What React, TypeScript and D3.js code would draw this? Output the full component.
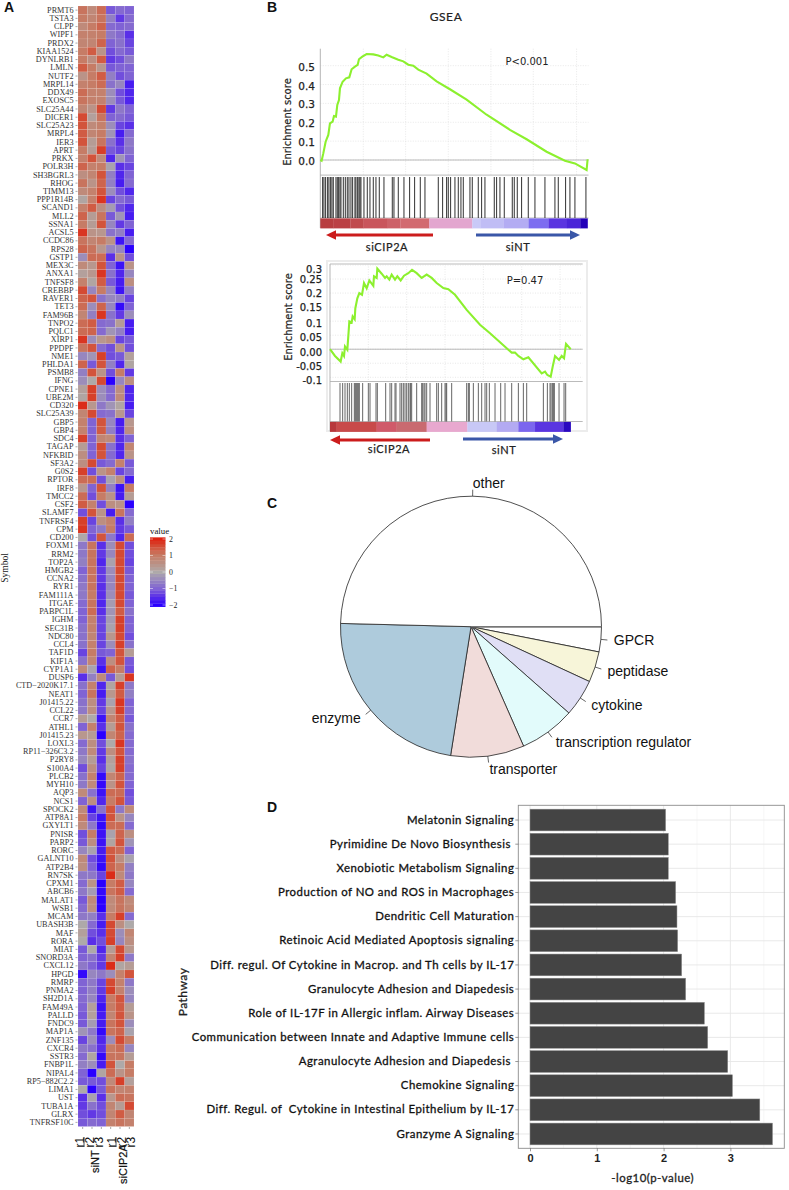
import { useEffect, useRef } from "react";
import * as d3 from "d3";

// Panel A: heatmap
const genes = [
    "PRMT6", "TSTA3", "CLPP", "WIPF1", "PRDX2", "KIAA1524", "DYNLRB1", "LMLN", "NUTF2", "MRPL14", "DDX49", "EXOSC5",
    "SLC25A44", "DICER1", "SLC25A23", "MRPL4", "IER3", "APRT", "PRKX", "POLR3H", "SH3BGRL3", "RHOG", "TIMM13", "PPP1R14B",
    "SCAND1", "MLL2", "SSNA1", "ACSL5", "CCDC86", "RPS28", "GSTP1", "MEX3C", "ANXA1", "TNFSF8", "CREBBP", "RAVER1",
    "TET3", "FAM96B", "TNPO2", "PQLC1", "XIRP1", "PPDPF", "NME1", "PHLDA1", "PSMB8", "IFNG", "CPNE1", "UBE2M",
    "CD320", "SLC25A39", "GBP5", "GBP4", "SDC4", "TAGAP", "NFKBID", "SF3A2", "G0S2", "RPTOR", "IRF8", "TMCC2",
    "CSF2", "SLAMF7", "TNFRSF4", "CPM", "CD200", "FOXM1", "RRM2", "TOP2A", "HMGB2", "CCNA2", "RYR1", "FAM111A",
    "ITGAE", "PABPC1L", "IGHM", "SEC31B", "NDC80", "CCL4", "TAF1D", "KIF1A", "CYP1A1", "DUSP6", "CTD−2020K17.1", "NEAT1",
    "J01415.22", "CCL22", "CCR7", "ATHL1", "J01415.23", "LOXL3", "RP11−326C3.2", "P2RY8", "S100A4", "PLCB2", "MYH10", "AQP3",
    "NCS1", "SPOCK2", "ATP8A1", "GXYLT1", "PNISR", "PARP2", "RORC", "GALNT10", "ATP2B4", "RN7SK", "CPXM1", "ABCB6",
    "MALAT1", "WSB1", "MCAM", "UBASH3B", "MAF", "RORA", "MIAT", "SNORD3A", "CXCL12", "HPGD", "RMRP", "PNMA2",
    "SH2D1A", "FAM49A", "PALLD", "FNDC9", "MAP1A", "ZNF135", "CXCR4", "SSTR3", "FNBP1L", "NIPAL4", "RP5−882C2.2", "LIMA1",
    "UST", "TUBA1A", "GLRX", "TNFRSF10C",
];
const samples = ["siNT r1", "siNT r2", "siNT r3", "siCIP2A r1", "siCIP2A r2", "siCIP2A r3"];
const heatValues = [
    [1.1, 0.7, 1.2, -1.1, -0.9, -1], [1, 0.8, 1.1, -0.6, -1.4, -0.9], [0.7, 1, 1.3, -0.9, -1, -0.9], [0.9, 0.9, 1, -0.7, -0.9, -1.5],
    [0.8, 0.8, 1.3, -1, -0.8, -1.3], [1, 1.4, 0.5, -1.2, -0.9, -1.1], [1, 0.6, 1.4, -1.4, -1.2, -0.7], [1.4, 1, 0.4, -1.1, -1, -1],
    [0.5, 1, 1.4, -0.6, -1.2, -1], [0.9, 1, 1.2, -0.8, -0.5, -1.7], [1.2, 0.9, 0.9, -0.4, -1.2, -1.6], [1.1, 0.9, 0.9, -0.4, -1.1, -1.6],
    [0.8, 0.5, 1.6, -1.4, -0.7, -1], [1.6, 0.2, 1.1, -1, -0.9, -1.1], [1.5, 0.7, 0.9, -0.4, -1.3, -1.5], [1.4, 0.8, 1, -0.3, -1.7, -0.9],
    [1.5, 0.3, 1.1, -0.8, -1.5, -0.7], [1, 0.3, 1.7, -1.1, -1.3, -0.8], [0.9, 1.5, 0.7, -1.6, -0.3, -1], [1.3, 0.9, 1, -0.1, -1.5, -1.3],
    [0.6, 0.8, 1.5, -0.6, -1.6, -1], [1.1, 0.5, 1.3, -0.6, -1.7, -0.9], [0.7, 0.9, 1.5, -0.4, -1.2, -1.6], [0.1, 0.9, 1.8, -1.3, -0.9, -1.1],
    [0.9, 1.4, 0.6, -0.2, -1.2, -1.6], [1.3, 0.3, 1.1, -1.1, -0.3, -1.7], [1, 0.3, 1.5, -0.5, -1.4, -1], [1.8, 0.5, 0.4, -0.8, -0.6, -1.7],
    [1.1, 0.8, 1, 0.5, -1.8, -0.9], [1.3, 1.1, 0.4, -0.5, -0.5, -2], [-0.4, 1.2, 1.2, -1.5, 0.5, -1.2], [0.7, 0.4, 1.5, -1, -1.8, 0.5],
    [0.2, 0.4, 1.8, -0.8, -1.6, -0.5], [0.9, 0.1, 1.4, -1.1, -1.7, 0.6], [1.6, -0.5, 1, -0.5, -1.8, -0.6], [1.3, 1.5, -0.8, -0.5, -0.6, -1.3],
    [1.2, -0.4, 1.3, -0.5, -1.9, -1], [0.8, -0.6, 1.8, -0.8, -1.4, -0.4], [1.2, 1.4, -0.9, -0.8, 0.3, -1.7], [1.2, 1.3, -0.9, -0.3, -0.6, -1.7],
    [1.8, -0.4, 0.4, 0.6, -1.3, -1.1], [1.1, 1.5, -0.9, -1.2, 0.5, -1.2], [-0.5, -0.3, 1.7, -1.2, -1.1, 0.2], [1.3, -1.1, 1.5, -0.6, -1.6, 0.1],
    [-0.6, 1.5, 0.5, -1.2, 1, -1.4], [-0.4, 0, 1.6, -2, -0.5, 0.6], [0.2, 1.7, -0.4, -0.9, 0.6, -1.6], [0.1, 1.7, -0.4, -0.9, 0.7, -1.6],
    [1.9, 0.4, -0.7, -0.3, 0.1, -1.7], [0.8, 1.6, -0.9, -0.8, 0.4, -1.3], [0.9, -1, 1.5, -0.5, -1.7, 0.4], [0.9, -1, 1.4, -0.6, -1.6, 0.6],
    [1.7, -1, 0.8, 0.7, -1.5, -1], [0.3, -1, 1.6, -0.8, -1.6, 0.8], [0.6, -1, 1.5, -0.9, -1.6, 0.5], [0.6, 1.6, -1.1, -0.9, 0.9, -1.1],
    [1.7, -1.2, 0.5, 0.9, -1.3, -0.9], [1.2, 1.2, -1.2, -0.1, 0.6, -1.7], [0.4, -1, 1.5, -0.6, -1.8, 1], [1.2, -1.2, 1, 0.5, -1.7, 0.3],
    [1.4, 0.9, -1.2, 0.6, 0.5, -2], [-1.2, 1.5, 0.5, -1.7, 1.1, -0.9], [1.7, -1.3, 0.6, 0.9, -1.5, -0.6], [1.8, -1, -0.7, 1, -1.4, -1.1],
    [0, -1.2, 1.5, -0.7, -1.6, 1.2], [-0.7, 1.1, -1.5, -0.4, 1.6, -1.2], [-0.7, 1.1, -1.4, -0.5, 1.6, -1.2], [-0.6, 1.1, -1.6, -0.1, 1.6, -1.3],
    [-1, 1.1, -1.4, -0.4, 1.6, -1.1], [-0.8, 1.1, -1.4, -0.5, 1.6, -1], [-0.7, 1.1, -1.5, -0.5, 1.6, -1], [-0.7, 1, -1.5, -0.4, 1.6, -1.1],
    [-0.9, 1.1, -1.6, -0.2, 1.6, -1], [-1, 1.2, -1.5, -0.3, 1.4, -0.8], [-1, 0.9, -1.3, -0.2, 1.7, -1], [-0.8, 0.9, -1.3, -0.1, 1.7, -1],
    [-0.8, 0.8, -1.3, 0.4, 1.6, -1.2], [-0.8, 0.9, -1.3, -0.4, 1.7, -0.8], [-1.3, 1, -1.1, -1, 1.5, 0.3], [-0.8, 0.8, -1.5, 0.6, 1.5, -1.1],
    [0.7, -0.1, -1.8, 1.3, 1, -1.2], [-1.5, -0.6, 0.7, -1.1, 0.3, 1.8], [-0.8, 0.9, -1.6, 0.1, 1.7, -0.7], [-1, 1.1, -1.7, 0.4, 1.4, -0.6],
    [-0.8, 0.6, -1.4, -0.1, 1.8, -1], [-0.7, 0.6, -1.3, 0.4, 1.7, -0.9], [0.3, 0, -1.8, 0.8, 1.4, -1.1], [-1, 0.9, -1.5, 0.3, 1.5, -0.8],
    [0.4, 0.3, -2, 0.8, 1.3, -0.9], [-0.9, 0.6, -1.2, 0, 1.8, -0.9], [-0.7, 0.7, -1.4, 0.6, 1.5, -0.9], [-0.5, 0.3, -1.5, 0.2, 1.7, -0.8],
    [-1.2, 0.6, -1.3, 0.1, 1.7, -0.9], [-0.8, 0.9, -1.9, 0.8, 1.3, -0.9], [-0.7, 0.7, -1.9, 0.5, 1.5, -1], [0.7, -0.8, -1.8, 1.2, 1.2, -1.2],
    [-1, 0.6, -1.6, 1, 1.5, -1.1], [0.7, -1.8, -0.8, 1.5, -0.7, 0.7], [1, -1.3, -1.8, 1.5, 0.5, -0.5], [0.7, -0.7, -1.9, 1.2, 1.2, -0.9],
    [-1.2, 1, -1.8, -0.1, 1.3, 0.6], [-1.1, 0.6, -1.8, 0.1, 1.5, -0.3], [-0.5, -0.1, -1.7, 1.4, 1.2, -1], [0.7, -1.2, -1.8, 1.5, 0.6, -0.1],
    [0.6, -1, -1.9, 1.3, 1, -0.6], [-0.7, -0.7, -1.3, 1.9, 0.7, -0.7], [-0.9, 0.5, -2, 1, 1.4, -0.5], [-0.7, -0.2, -1.9, 1.1, 1.4, -0.9],
    [-1.1, 0.7, -2, 0.7, 1.1, 0.7], [-0.9, 0.6, -2, 0.7, 1.1, 0.8], [-0.7, -0.6, -1.5, 1, 1.7, -0.9], [0, -0.9, -1.7, 1.6, 0.6, 0],
    [0.2, -1.2, -1.5, 1.6, -0.4, 0.8], [0, -1.5, -1.2, 1.7, -0.5, 0.6], [-1.1, 0, -1.6, 0.3, 1.6, 0.4], [-1, -0.8, -1.4, 0.8, 1.7, -0.7],
    [-0.7, -1, -1.4, 1.9, 0.1, 0.3], [-1.9, -0.5, -0.7, -0.4, 0.9, 1.5], [-1, -0.7, -1.3, 1.6, 0.9, -0.7], [-1, -0.6, -1.4, 1.7, 0.9, -0.4],
    [-0.9, -0.5, -1.6, 1, 1.5, -0.5], [-1, 0.2, -1.8, 1, 1.4, 0.3], [-1.1, 0.2, -1.7, 0.8, 1.5, 0.5], [-1.1, -0.2, -1.7, 1.1, 1.5, -0.4],
    [-0.3, -0.7, -1.9, 1.1, 1.3, -0.1], [-1.3, -0.4, -1.6, -0.4, 1.6, 1], [-0.7, -0.8, -1.5, 1, 1.2, -0.5], [-0.9, 0.1, -1.9, 1.1, 1.1, 0.3],
    [-0.6, -0.4, -1.7, 1.5, 0, 1], [-1, -2, 0.1, 1.2, 0.5, 1], [-1.1, -1.1, -1.2, 0.7, 1.7, 0.2], [0, -2, -1.1, 1.1, 0.8, 0.9],
    [-1.5, -0.1, -1.5, 0.4, 1.2, 1.1], [-1.4, -0.8, -1.2, 0.8, 0.3, 1.6], [-1.2, -1.4, -1.2, 0.8, 1.4, 0.8], [-1.1, -0.9, -1, 0.9, 1.1, 0.9],
];
const legendTicks = [2, 1, 0, -1, -2];

// Panel B: GSEA running scores, as [rank, enrichment score]
const esCurveTop = [
    [0, 0], [4, -0.004], [9, 0.035], [16, 0.097], [24, 0.133], [29, 0.194], [37, 0.203], [41, 0.233], [47, 0.23], [51, 0.292], [56, 0.318],
    [59, 0.38], [67, 0.415], [77, 0.433], [87, 0.438], [94, 0.481], [104, 0.495], [112, 0.504], [116, 0.534], [126, 0.548], [139, 0.562],
    [159, 0.56], [174, 0.554], [189, 0.544], [199, 0.558], [214, 0.546], [234, 0.532], [249, 0.523], [264, 0.505], [279, 0.5], [294, 0.479],
    [319, 0.458], [349, 0.417], [389, 0.375], [439, 0.32], [499, 0.24], [569, 0.16], [619, 0.11], [679, 0.044], [734, -0.004], [764, -0.018],
    [799, -0.053], [802, 0.004],
];
const hitsTop = [
    7, 11, 16, 22, 26, 31, 35, 39, 47, 51, 55, 59, 62, 69, 75, 81, 86, 92, 97, 104, 107, 112, 116, 119, 122, 131, 141, 149, 159, 167, 177, 191,
    216, 221, 234, 251, 268, 283, 300, 314, 354, 367, 379, 384, 391, 404, 414, 422, 429, 449, 456, 474, 484, 494, 522, 529, 539, 552, 576, 582,
    591, 604, 624, 644, 674, 704, 714, 736, 749, 764, 797,
];
const bandTop: [number, string][] = [
    [0, "#b83d3f"], [40, "#bb4044"], [90, "#c04a4e"], [130, "#c9555c"], [200, "#cd6168"], [240, "#d26a70"], [327, "#e3a6cf"],
    [456, "#c9c9f7"], [480, "#c0bdf5"], [550, "#b3acf3"], [625, "#7d6df0"], [685, "#5a35e0"], [740, "#4a25d8"], [780, "#2200b8"],
];
const esTicksTop = [0, 0.1, 0.2, 0.3, 0.4, 0.5];
const gridRanksTop = [129, 256, 384, 512, 639, 769];

const esCurveBottom = [
    [0, 0], [15, -0.024], [32, -0.044], [37, -0.014], [42, -0.024], [45, 0.01], [52, -0.002], [55, 0.048], [58, 0.099], [65, 0.095], [68, 0.117],
    [74, 0.107], [76, 0.146], [82, 0.181], [88, 0.2], [96, 0.194], [102, 0.236], [110, 0.217], [118, 0.245], [130, 0.226], [132, 0.26], [140, 0.254],
    [142, 0.287], [155, 0.269], [165, 0.254], [170, 0.26], [178, 0.248], [185, 0.266], [195, 0.248], [202, 0.26], [212, 0.245], [222, 0.262],
    [235, 0.271], [246, 0.283], [260, 0.271], [275, 0.254], [290, 0.266], [305, 0.254], [320, 0.236], [340, 0.218], [355, 0.214], [375, 0.194],
    [410, 0.14], [450, 0.087], [480, 0.057], [535, -0.002], [545, -0.012], [555, -0.012], [565, -0.024], [580, -0.036], [595, -0.029], [635, -0.086],
    [645, -0.08], [652, -0.092], [662, -0.098], [668, -0.062], [675, -0.024], [687, -0.038], [695, -0.024], [702, -0.032], [708, 0.019], [722, 0],
];
const hitsBottom = [
    30, 38, 45, 52, 58, 65, 73, 76, 79, 82, 85, 88, 98, 115, 120, 138, 142, 167, 180, 185, 195, 198, 210, 215, 220, 225, 230, 235, 240, 242, 245,
    260, 275, 278, 282, 285, 290, 300, 320, 325, 335, 345, 348, 350, 365, 410, 415, 418, 430, 445, 455, 465, 470, 478, 495, 512, 525, 545, 565, 580,
    590, 640, 652, 660, 663, 667, 670, 673, 687, 702, 707,
];
const bandBottom: [number, string][] = [
    [0, "#b8383c"], [20, "#c84a4a"], [140, "#d05a6a"], [200, "#c96a70"], [290, "#e8a8cf"], [412, "#c8c8f6"], [500, "#b3aaf2"],
    [565, "#7b66ee"], [615, "#5a35e0"], [700, "#2a08c0"],
];
const esTicksBottom = [0.3, 0.25, 0.2, 0.15, 0.1, 0.05, 0, -0.05, -0.1];
const esLabelsBottom = ["0.3", "0.25", "0.2", "0.15", "0.1", "0.05", "0.00", "-0.05", "-0.1"];
const esLabelNudge = [4.5, 0, 0, 0, 2.5, 2, 2.5, 3.3, 3.3];
const gridRanksBottom = [115, 230, 345, 460, 575, 690];

// Panel C: pie
const pieLabels = ["GPCR", "peptidase", "cytokine", "transcription regulator", "transporter", "enzyme", "other"];
const pieShares = [3.1, 3.8, 4.6, 6.9, 9.1, 22.9, 49.6];
const pieColors = ["#ffffff", "#f7f5d9", "#e0dff5", "#e2fbfb", "#f1dcda", "#aecbdc", "#ffffff"];

// Panel D: pathways
const pathways = [
    "Melatonin Signaling", "Pyrimidine De Novo Biosynthesis ", "Xenobiotic Metabolism Signaling", "Production of NO and ROS in Macrophages",
    "Dendritic Cell Maturation", "Retinoic Acid Mediated Apoptosis signaling", "Diff. regul. Of Cytokine in Macrop. and Th cells by IL-17",
    "Granulocyte Adhesion and Diapedesis", "Role of IL-17F in Allergic inflam. Airway Diseases", "Communication between Innate and Adaptive Immune cells",
    "Agranulocyte Adhesion and Diapedesis ", "Chemokine Signaling", "Diff. Regul. of  Cytokine in Intestinal Epithelium by IL-17", "Granzyme A Signaling",
];
const pathwayScores = [2.03, 2.07, 2.07, 2.18, 2.2, 2.21, 2.27, 2.33, 2.61, 2.66, 2.96, 3.03, 3.44, 3.63];

const SERIF = "'Liberation Serif', serif";
const AVENIR = "Lato, sans-serif";
const VERDANA = "'DejaVu Sans', sans-serif";
const HELV = "'Liberation Sans', sans-serif";

function panelLetter(svg: any, letter: string, x: number, y: number) {
    svg.append("text").attr("x", x).attr("y", y).attr("font-family", HELV).attr("font-weight", "bold")
        .attr("font-size", 14).attr("fill", "#111").text(letter);
}

function drawHeatmap(svg: any) {
    const y = d3.scaleBand().domain(genes).range([6, 1126.5]);
    const x = d3.scaleBand().domain(samples).range([78, 134]);
    const color = d3.scaleLinear<string>()
        .domain([-2, -1.5, -1, 0, 1, 1.5, 2])
        .range(["#2a00ff", "#5a2fe8", "#8063d4", "#aea9a9", "#c67c66", "#d2543c", "#dd2210"]);

    const g = svg.append("g");
    genes.forEach((gene, i) => {
        g.selectAll(null)
            .data(heatValues[i])
            .enter()
            .append("rect")
            .attr("x", (_: number, j: number) => x(samples[j]))
            .attr("y", y(gene))
            .attr("width", x.bandwidth())
            .attr("height", y.bandwidth())
            .attr("fill", (d: number) => color(d))
            .attr("stroke", "#fff")
            .attr("stroke-opacity", 0.2)
            .attr("stroke-width", 0.4);
    });

    const left = svg.append("g").attr("transform", "translate(77.5,0)").call(d3.axisLeft(y).tickSize(2).tickPadding(2));
    left.select(".domain").remove();
    left.selectAll("text").attr("font-family", SERIF).attr("font-size", 8.2).attr("fill", "#333");
    left.selectAll("line").attr("stroke", "#555").attr("stroke-width", 0.5);

    const bottom = svg.append("g").attr("transform", "translate(0,1127)").call(d3.axisBottom(x).tickSize(2).tickFormat(() => ""));
    bottom.select(".domain").remove();
    bottom.selectAll("line").attr("stroke", "#555").attr("stroke-width", 0.5);

    const reps = ["r1", "r2", "r3", "r1", "r2", "r3"];
    const repX = [80, 89.7, 99, 111.5, 121.5, 131];
    reps.forEach((r, i) => {
        svg.append("text").attr("transform", `translate(${repX[i] + 4.2},1147.5) rotate(-90)`)
            .attr("font-family", HELV).attr("font-size", 12).attr("fill", "#111").text(r);
    });
    [84, 116].forEach((bx) => {
        svg.append("line").attr("x1", bx).attr("x2", bx).attr("y1", 1137).attr("y2", 1147).attr("stroke", "#222").attr("stroke-width", 0.8);
    });
    svg.append("text").attr("transform", "translate(99,1173) rotate(-90)").attr("font-family", HELV).attr("font-size", 11)
        .attr("fill", "#111").attr("stroke", "#111").attr("stroke-width", 0.2).text("siNT");
    svg.append("text").attr("transform", "translate(127,1184) rotate(-90)").attr("font-family", HELV).attr("font-size", 11)
        .attr("fill", "#111").attr("stroke", "#111").attr("stroke-width", 0.2).text("siCIP2A");

    svg.append("text").attr("transform", "translate(8,568) rotate(-90)").attr("text-anchor", "middle")
        .attr("font-family", SERIF).attr("font-size", 9.5).attr("fill", "#222").text("Symbol");

    // colour legend
    const ly = d3.scaleLinear().domain([-2, 2]).range([605, 539]);
    const bins = d3.range(0, 21).map((i) => -2.1 + (i * 4.2) / 21);
    svg.append("g").selectAll("rect").data(bins).enter().append("rect")
        .attr("x", 150).attr("width", 15.5)
        .attr("y", (d: number) => ly(d + 0.2))
        .attr("height", ly(0) - ly(0.2) + 0.3)
        .attr("fill", (d: number) => color(Math.max(-2, Math.min(2, d + 0.1))));
    legendTicks.forEach((t) => {
        [[150, 153], [162.5, 165.5]].forEach(([a, b]) => {
            svg.append("line").attr("x1", a).attr("x2", b).attr("y1", ly(t)).attr("y2", ly(t)).attr("stroke", "#fff").attr("stroke-width", 0.5);
        });
        svg.append("text").attr("x", 169).attr("y", ly(t) + 2.6).attr("font-family", SERIF).attr("font-size", 7.8).attr("fill", "#222")
            .text(t < 0 ? "−" + Math.abs(t) : String(t));
    });
    svg.append("text").attr("x", 150).attr("y", 534).attr("font-family", SERIF).attr("font-size", 8.8).attr("fill", "#111").text("value");
}

function arrow(svg: any, x1: number, x2: number, y: number, color: string) {
    const dir = x2 > x1 ? 1 : -1;
    svg.append("line").attr("x1", x1).attr("x2", x2 - dir * 9).attr("y1", y).attr("y2", y).attr("stroke", color).attr("stroke-width", 3);
    svg.append("path").attr("d", d3.line()([[x2, y], [x2 - dir * 10, y - 4.8], [x2 - dir * 10, y + 4.8]]) + "Z").attr("fill", color);
}

function drawGsea(svg: any, o: any) {
    const x = d3.scaleLinear().domain(o.rankDomain).range(o.xRange);
    const y = d3.scaleLinear().domain(o.esDomain).range(o.yRange);

    // dotted grid
    o.gridRanks.forEach((r: number) => {
        svg.append("line").attr("x1", x(r)).attr("x2", x(r)).attr("y1", o.yRange[1]).attr("y2", o.yRange[0])
            .attr("stroke", "#d8d8d8").attr("stroke-width", 0.6).attr("stroke-dasharray", "1,1.5");
    });
    o.esTicks.forEach((t: number) => {
        svg.append("line").attr("x1", o.xRange[0]).attr("x2", o.frameRight).attr("y1", y(t)).attr("y2", y(t))
            .attr("stroke", "#d8d8d8").attr("stroke-width", 0.6).attr("stroke-dasharray", "1,1.5");
    });
    // frame lines
    svg.append("line").attr("x1", o.xRange[0]).attr("x2", o.xRange[0]).attr("y1", o.yRange[1]).attr("y2", o.bandBottom).attr("stroke", "#b5b5b5").attr("stroke-width", 1);
    [y(0), o.yRange[0], o.bandTop].forEach((ly: number) => {
        svg.append("line").attr("x1", o.xRange[0]).attr("x2", o.frameRight).attr("y1", ly).attr("y2", ly).attr("stroke", "#aaa").attr("stroke-width", 0.8);
    });

    // tick labels
    o.esTicks.forEach((t: number, i: number) => {
        svg.append("text").attr("x", o.labelX).attr("y", y(t) + 3.8 + o.nudge[i]).attr("text-anchor", "end")
            .attr("font-family", VERDANA).attr("font-size", o.tickSize).attr("fill", "#222").attr("stroke", "#222").attr("stroke-width", 0.25)
            .text(o.tickLabels[i]);
    });
    svg.append("text").attr("transform", `translate(${o.titleX},${o.titleY}) rotate(-90)`).attr("text-anchor", "middle")
        .attr("font-family", VERDANA).attr("font-size", 10).attr("fill", "#222").attr("stroke", "#222").attr("stroke-width", 0.2).text("Enrichment score");

    // hits
    svg.append("g").selectAll("line").data(o.hits).enter().append("line")
        .attr("x1", (d: number) => x(d)).attr("x2", (d: number) => x(d))
        .attr("y1", o.hitTop).attr("y2", o.bandTop)
        .attr("stroke", o.hitColor).attr("stroke-width", 0.9);

    // colour band
    svg.append("g").selectAll("rect").data(o.band).enter().append("rect")
        .attr("x", (d: [number, string]) => x(d[0]))
        .attr("y", o.bandTop + 0.4)
        .attr("width", (d: [number, string], i: number) => x(i + 1 < o.band.length ? o.band[i + 1][0] : o.rankDomain[1]) - x(d[0]) + 0.2)
        .attr("height", o.bandBottom - o.bandTop)
        .attr("fill", (d: [number, string]) => d[1]);

    // running score
    const line = d3.line<number[]>().x((d) => x(d[0])).y((d) => y(d[1]));
    svg.append("path").attr("d", line(o.curve)).attr("fill", "none").attr("stroke", "#8cf02e").attr("stroke-width", 2.1);
}

function drawGseaPanels(svg: any) {
    svg.append("text").attr("x", 446).attr("y", 21).attr("text-anchor", "middle").attr("font-family", AVENIR)
        .attr("font-size", 12).attr("fill", "#222").attr("stroke", "#222").attr("stroke-width", 0.2).attr("letter-spacing", 0.6).text("GSEA");

    drawGsea(svg, {
        rankDomain: [0, 802], xRange: [320.3, 587.6], esDomain: [-0.08, 0.59], yRange: [175.1, 48.7], frameRight: 588.5,
        gridRanks: gridRanksTop, esTicks: esTicksTop, tickLabels: esTicksTop.map((t) => t.toFixed(1)), nudge: esTicksTop.map(() => 1.2),
        labelX: 315, tickSize: 10.5, titleX: 291, titleY: 122, hits: hitsTop, hitColor: "#1a1a1a", hitTop: 177, bandTop: 218, bandBottom: 228, band: bandTop, curve: esCurveTop,
    });
    svg.append("text").attr("x", 527).attr("y", 65).attr("text-anchor", "middle").attr("font-family", VERDANA).attr("font-size", 10)
        .attr("fill", "#222").text("P<0.001");
    arrow(svg, 433, 326, 235, "#cc1c1c");
    arrow(svg, 476, 580, 235, "#3a57a8");
    [["siCIP2A", 387, 251], ["siNT", 518, 251], ["siCIP2A", 389, 453], ["siNT", 504, 454]].forEach(([t, tx, ty]) => {
        svg.append("text").attr("x", tx).attr("y", ty).attr("text-anchor", "middle").attr("font-family", AVENIR).attr("font-size", 11)
            .attr("stroke", "#222").attr("stroke-width", 0.25).attr("letter-spacing", 0.6).attr("fill", "#222").text(t as string);
    });

    svg.append("rect").attr("x", 327).attr("y", 261).attr("width", 260).attr("height", 170).attr("fill", "none").attr("stroke", "#ececec").attr("stroke-width", 2);
    svg.append("line").attr("x1", 330).attr("x2", 582.7).attr("y1", 264).attr("y2", 264).attr("stroke", "#bbb").attr("stroke-width", 1);
    drawGsea(svg, {
        rankDomain: [0, 722], xRange: [330, 570.7], esDomain: [-0.115, 0.3036], yRange: [381.5, 264], frameRight: 582.7,
        gridRanks: gridRanksBottom, esTicks: esTicksBottom, tickLabels: esLabelsBottom, nudge: esLabelNudge,
        labelX: 322, tickSize: 10, titleX: 291.5, titleY: 317, hits: hitsBottom, hitColor: "#555555", hitTop: 383, bandTop: 421.5, bandBottom: 431.5, band: bandBottom, curve: esCurveBottom,
    });
    svg.append("text").attr("x", 525).attr("y", 284).attr("text-anchor", "middle").attr("font-family", VERDANA).attr("font-size", 10)
        .attr("fill", "#222").text("P=0.47");
    arrow(svg, 430, 330, 440, "#cc1c1c");
    arrow(svg, 463, 563, 439, "#3a57a8");
}

function drawPie(svg: any) {
    const cx = 471, cy = 626.7, r = 130.5;
    const pie = d3.pie<number>().sort(null).startAngle(Math.PI / 2).endAngle(Math.PI / 2 + 2 * Math.PI);
    const arcs = pie(pieShares);
    const arc = d3.arc<any>().innerRadius(0).outerRadius(r);
    const g = svg.append("g").attr("transform", `translate(${cx},${cy})`);
    g.selectAll("path").data(arcs).enter().append("path")
        .attr("d", arc)
        .attr("fill", (_: any, i: number) => pieColors[i])
        .attr("stroke", "#222")
        .attr("stroke-width", 0.8);
    // the first radius is drawn heavier and greyer in the original
    g.append("line").attr("x1", 0).attr("y1", 0).attr("x2", r).attr("y2", 0).attr("stroke", "#777").attr("stroke-width", 1.4);

    arcs.forEach((a: any, i: number) => {
        const mid = (a.startAngle + a.endAngle) / 2;
        const sx = Math.sin(mid), sy = -Math.cos(mid);
        g.append("line").attr("x1", sx * r).attr("y1", sy * r).attr("x2", sx * r * 1.05).attr("y2", sy * r * 1.05).attr("stroke", "#222").attr("stroke-width", 0.7);
        g.append("text").attr("x", sx * r * 1.1).attr("y", sy * r * 1.1 + 4.7)
            .attr("text-anchor", sx < 0 ? "end" : "start")
            .attr("font-family", HELV).attr("font-size", 14).attr("fill", "#111").text(pieLabels[i]);
    });
}

function drawBars(svg: any) {
    const panel = { left: 518.3, right: 784.3, top: 805.3, bottom: 1148.3 };
    const x = d3.scaleLinear().domain([0, 3]).range([530, 730.4]);
    const y = d3.scaleBand().domain(pathways).range([807.95, 1146.05]).paddingInner(0.1).paddingOuter(0.05);

    [0.5, 1.5, 2.5, 3.5].forEach((t) => {
        svg.append("line").attr("x1", x(t)).attr("x2", x(t)).attr("y1", panel.top).attr("y2", panel.bottom).attr("stroke", "#efefef").attr("stroke-width", 0.5);
    });
    [0, 1, 2, 3].forEach((t) => {
        svg.append("line").attr("x1", x(t)).attr("x2", x(t)).attr("y1", panel.top).attr("y2", panel.bottom).attr("stroke", "#e6e6e6").attr("stroke-width", 0.9);
    });
    pathways.forEach((p) => {
        const cy = (y(p) as number) + y.bandwidth() / 2;
        svg.append("line").attr("x1", panel.left).attr("x2", panel.right).attr("y1", cy).attr("y2", cy).attr("stroke", "#e6e6e6").attr("stroke-width", 0.9);
    });

    svg.append("g").selectAll("rect").data(pathways).enter().append("rect")
        .attr("x", x(0))
        .attr("y", (d: string) => y(d))
        .attr("width", (_: string, i: number) => x(pathwayScores[i]) - x(0))
        .attr("height", y.bandwidth())
        .attr("fill", "#444444")
        .attr("stroke", "#8a8a8a")
        .attr("stroke-width", 0.5);

    svg.append("rect").attr("x", panel.left).attr("y", panel.top).attr("width", panel.right - panel.left).attr("height", panel.bottom - panel.top)
        .attr("fill", "none").attr("stroke", "#8c8c8c").attr("stroke-width", 0.9);

    const left = svg.append("g").attr("transform", `translate(${panel.left},0)`).call(d3.axisLeft(y).tickSize(3).tickPadding(1));
    left.select(".domain").remove();
    left.selectAll("text").attr("font-family", AVENIR).attr("font-size", 11.4).attr("letter-spacing", 0.49)
        .attr("fill", "#111").attr("stroke", "#111").attr("stroke-width", 0.3).style("white-space", "pre");
    left.selectAll("line").attr("stroke", "#555").attr("stroke-width", 0.6);

    const bottom = svg.append("g").attr("transform", `translate(0,${panel.bottom})`).call(d3.axisBottom(x).tickValues([0, 1, 2, 3]).tickSize(3).tickPadding(3).tickFormat(d3.format("d") as any));
    bottom.select(".domain").remove();
    bottom.selectAll("text").attr("font-family", HELV).attr("font-size", 11).attr("font-weight", 700).attr("fill", "#222");
    bottom.selectAll("line").attr("stroke", "#555").attr("stroke-width", 0.6);

    svg.append("text").attr("x", 652.7).attr("y", 1182).attr("text-anchor", "middle").attr("font-family", AVENIR).attr("font-size", 11.4)
        .attr("stroke", "#222").attr("stroke-width", 0.3).attr("letter-spacing", 0.5).attr("fill", "#222").text("-log10(p-value)");
    svg.append("text").attr("transform", "translate(186.5,992) rotate(-90)").attr("text-anchor", "middle").attr("font-family", AVENIR).attr("font-size", 12)
        .attr("stroke", "#222").attr("stroke-width", 0.3).attr("letter-spacing", 0.5).attr("fill", "#222").text("Pathway");
}

export default function App() {
    const svgRef = useRef<SVGSVGElement | null>(null);

    useEffect(() => {
        const svg = d3.select(svgRef.current);
        svg.selectAll("*").remove();
        panelLetter(svg, "A", 4, 12);
        panelLetter(svg, "B", 267, 12);
        panelLetter(svg, "C", 267, 508);
        panelLetter(svg, "D", 267, 812);
        drawHeatmap(svg);
        drawGseaPanels(svg);
        drawPie(svg);
        drawBars(svg);
    }, []);

    return (
        <svg
            ref={svgRef}
            width={789}
            height={1190}
            style={{ position: "absolute", left: 0, top: 0, background: "#fff" }}
        />
    );
}
